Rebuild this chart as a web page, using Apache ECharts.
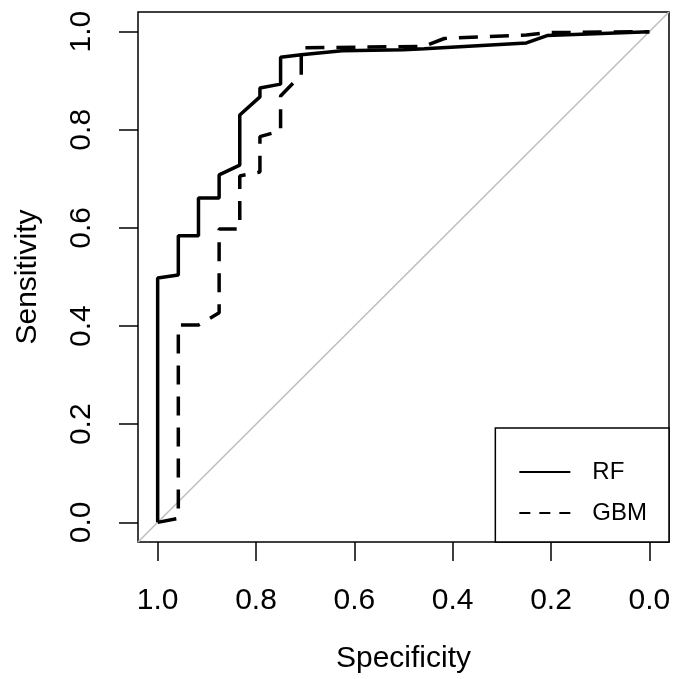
<!DOCTYPE html>
<html>
<head>
<meta charset="utf-8">
<script src="https://cdn.jsdelivr.net/npm/echarts@6/dist/echarts.min.js"></script>
<style>
  html, body { margin: 0; padding: 0; background: #fff; }
  #chart { width: 675px; height: 679px; }
</style>
</head>
<body>
<div id="chart"></div>
<script>
// Tick values
const tickValues = [0, 0.2, 0.4, 0.6, 0.8, 1.0];

// RF ROC curve: specificity / sensitivity
const rfSpec = [1.0, 1.0, 0.958, 0.958, 0.917, 0.917, 0.875, 0.875, 0.833, 0.833, 0.792, 0.792, 0.75, 0.75, 0.708, 0.625, 0.5, 0.458, 0.25, 0.208, 0.0];
const rfSens = [0.0, 0.498, 0.504, 0.584, 0.584, 0.661, 0.661, 0.708, 0.728, 0.830, 0.867, 0.885, 0.893, 0.948, 0.953, 0.961, 0.963, 0.965, 0.977, 0.992, 1.0];

// GBM ROC curve: specificity / sensitivity
const gbmSpec = [1.0, 0.958, 0.958, 0.917, 0.875, 0.875, 0.833, 0.833, 0.792, 0.792, 0.75, 0.75, 0.708, 0.708, 0.458, 0.417, 0.333, 0.25, 0.208, 0.0];
const gbmSens = [0.0, 0.008, 0.402, 0.402, 0.427, 0.598, 0.598, 0.706, 0.714, 0.786, 0.798, 0.869, 0.912, 0.967, 0.970, 0.986, 0.990, 0.993, 0.998, 1.0];

// Chance diagonal (sensitivity = 1 - specificity) across the plot region
const diagSpec = [1.04, -0.04];
const diagSens = [-0.04, 1.04];

const zip = (a, b) => a.map((v, i) => [v, b[i]]);
const FONT = '"Liberation Sans", Arial, Helvetica, sans-serif';

const chart = echarts.init(document.getElementById('chart'), null, { renderer: 'canvas' });
chart.setOption({
  backgroundColor: '#fff',
  animation: false,
  grid: {
    left: 138, right: 6, top: 12, bottom: 137,
    show: true, borderColor: '#000', borderWidth: 1.5, backgroundColor: 'transparent'
  },
  xAxis: {
    type: 'value', min: -0.04, max: 1.04, inverse: true,
    axisLine: { show: false, onZero: false },
    splitLine: { show: false },
    axisTick: { show: true, customValues: tickValues, length: 19, lineStyle: { color: '#000', width: 1.5 } },
    axisLabel: {
      customValues: tickValues, fontSize: 30, color: '#000', fontFamily: FONT, margin: 44,
      formatter: v => v.toFixed(1)
    },
    name: 'Specificity', nameLocation: 'middle', nameGap: 102,
    nameTextStyle: { fontSize: 30, color: '#000', fontFamily: FONT, verticalAlign: 'top' }
  },
  yAxis: {
    type: 'value', min: -0.04, max: 1.04,
    axisLine: { show: false, onZero: false },
    splitLine: { show: false },
    axisTick: { show: true, customValues: tickValues, length: 19, lineStyle: { color: '#000', width: 1.5 } },
    axisLabel: {
      customValues: tickValues, fontSize: 30, color: '#000', fontFamily: FONT, margin: 41,
      rotate: 90, align: 'center', verticalAlign: 'bottom',
      formatter: v => v.toFixed(1)
    },
    name: 'Sensitivity', nameLocation: 'middle', nameGap: 95,
    nameTextStyle: { fontSize: 30, color: '#000', fontFamily: FONT, verticalAlign: 'bottom' }
  },
  legend: {
    orient: 'vertical', right: 6, bottom: 137, align: 'left',
    backgroundColor: '#fff', borderColor: '#000', borderWidth: 1.5,
    padding: [32, 22, 17, 24],
    itemWidth: 51, itemHeight: 2, itemGap: 17,
    textStyle: { fontSize: 24, color: '#000', fontFamily: FONT, padding: [0, 0, 0, 17] },
    data: [
      { name: 'RF', icon: 'path://M0,0H51V2H0Z', itemStyle: { color: '#000' } },
      { name: 'GBM', icon: 'path://M0,0H11V2H0Z M20,0H31V2H20Z M40,0H51V2H40Z', itemStyle: { color: '#000' } }
    ]
  },
  series: [
    {
      name: 'diag', type: 'line', data: zip(diagSpec, diagSens), symbol: 'none', silent: true,
      lineStyle: { color: '#BEBEBE', width: 1.5 }, z: 1
    },
    {
      name: 'RF', type: 'line', data: zip(rfSpec, rfSens), symbol: 'none',
      lineStyle: { color: '#000', width: 3.5, type: 'solid' }, itemStyle: { color: '#000' }, z: 3
    },
    {
      name: 'GBM', type: 'line', data: zip(gbmSpec, gbmSens), symbol: 'none',
      lineStyle: { color: '#000', width: 3.5, type: [19, 12] }, itemStyle: { color: '#000' }, z: 2
    }
  ]
});
</script>
</body>
</html>
